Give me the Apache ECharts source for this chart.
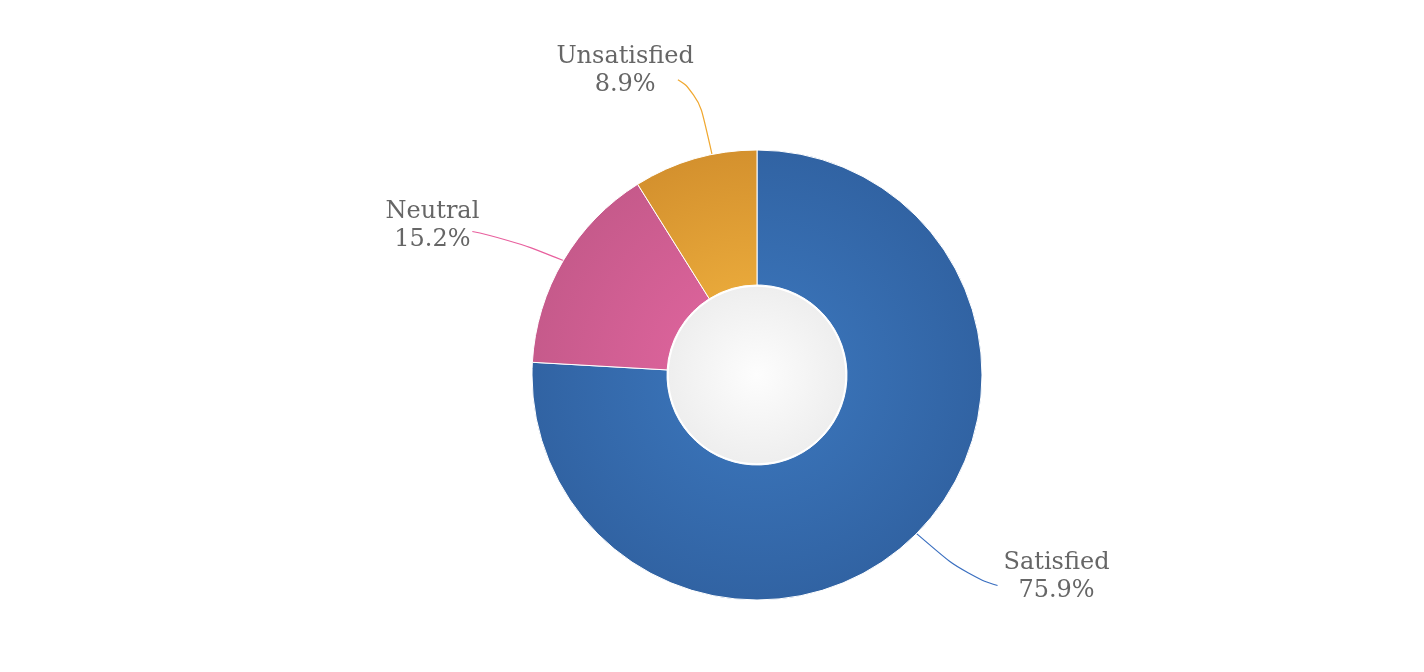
<!DOCTYPE html>
<html><head><meta charset="utf-8">
<script src="https://cdn.jsdelivr.net/npm/echarts@6/dist/echarts.min.js"></script>
<style>html,body{margin:0;padding:0;background:#fff}#c{width:1424px;height:672px}</style>
</head><body><div id="c"></div>
<script>
const categories = ['Satisfied', 'Neutral', 'Unsatisfied'];
const values = [75.9, 15.2, 8.9];
const lightColors = ['#3870b4', '#d96299', '#e8a83a'];
const darkColors = ['#3163a3', '#c65a8b', '#d4912e'];
const lineColors = ['#3a6fc0', '#e8609e', '#f0a830'];

const CX = 757, CY = 375, R_OUT = 225, R_IN = 90;
// connector shape: [bend dx, bend dy, end dx, end dy] relative to slice mid edge point
const connectorShape = [[55, 38, 86, 47], [-55, -22, -91, -29], [3, -67, -17, -79]];
const connectorRotate = [-1.8, 0, 4.5];   // degrees, where the connector leaves the slice
const labelShift = [[0, 0], [13, 3], [22, 0]];

function grad(light, dark) {
  return new echarts.graphic.RadialGradient(CX, CY, R_OUT, [
    { offset: 0, color: light }, { offset: R_IN / R_OUT, color: light }, { offset: 1, color: dark }
  ], true);
}

const chart = echarts.init(document.getElementById('c'));
chart.setOption({
  animation: false,
  series: [{
    type: 'pie',
    center: [CX, CY],
    radius: [R_IN, R_OUT],
    startAngle: 90,
    clockwise: true,
    percentPrecision: 1,
    itemStyle: { borderColor: '#fff', borderWidth: 1 },
    label: {
      show: true,
      position: 'outside',
      formatter: '{b}\n{d}%',
      fontFamily: 'DejaVu Serif',
      fontSize: 24,
      lineHeight: 28,
      color: '#666666',
      align: 'center'
    },
    labelLine: { show: true, smooth: 0.6, length: 30, length2: 30, lineStyle: { width: 1.2 } },
    labelLayout: function (p) {
      const i = p.dataIndex;
      const s0 = p.labelLinePoints[0];
      const c = connectorShape[i];
      const end = [s0[0] + c[2], s0[1] + c[3]];
      const bend = [s0[0] + c[0], s0[1] + c[1]];
      const a = Math.atan2(s0[0] - CX, -(s0[1] - CY)) + connectorRotate[i] * Math.PI / 180;
      const s = [CX + R_OUT * Math.sin(a), CY - R_OUT * Math.cos(a)];
      const w = p.labelRect.width;
      const right = c[2] > 0;
      return {
        x: (right ? end[0] + 6 + w / 2 : end[0] - 6 - w / 2) + labelShift[i][0],
        y: end[1] - 9 + labelShift[i][1],
        align: 'center',
        verticalAlign: 'middle',
        labelLinePoints: [s, bend, end]
      };
    },
    emphasis: { disabled: true },
    data: categories.map((c, i) => ({
      name: c, value: values[i],
      itemStyle: { color: grad(lightColors[i], darkColors[i]) },
      labelLine: { lineStyle: { color: lineColors[i] } }
    }))
  }, {
    type: 'pie',
    center: [CX, CY],
    radius: [0, R_IN - 1],
    silent: true,
    label: { show: false },
    labelLine: { show: false },
    itemStyle: { borderColor: '#fff', borderWidth: 1.5,
      color: new echarts.graphic.RadialGradient(0.5, 0.5, 0.5, [
        { offset: 0, color: '#fdfdfd' }, { offset: 1, color: '#eeeeee' }]) },
    data: [{ name: '', value: 1 }]
  }]
});
</script></body></html>
